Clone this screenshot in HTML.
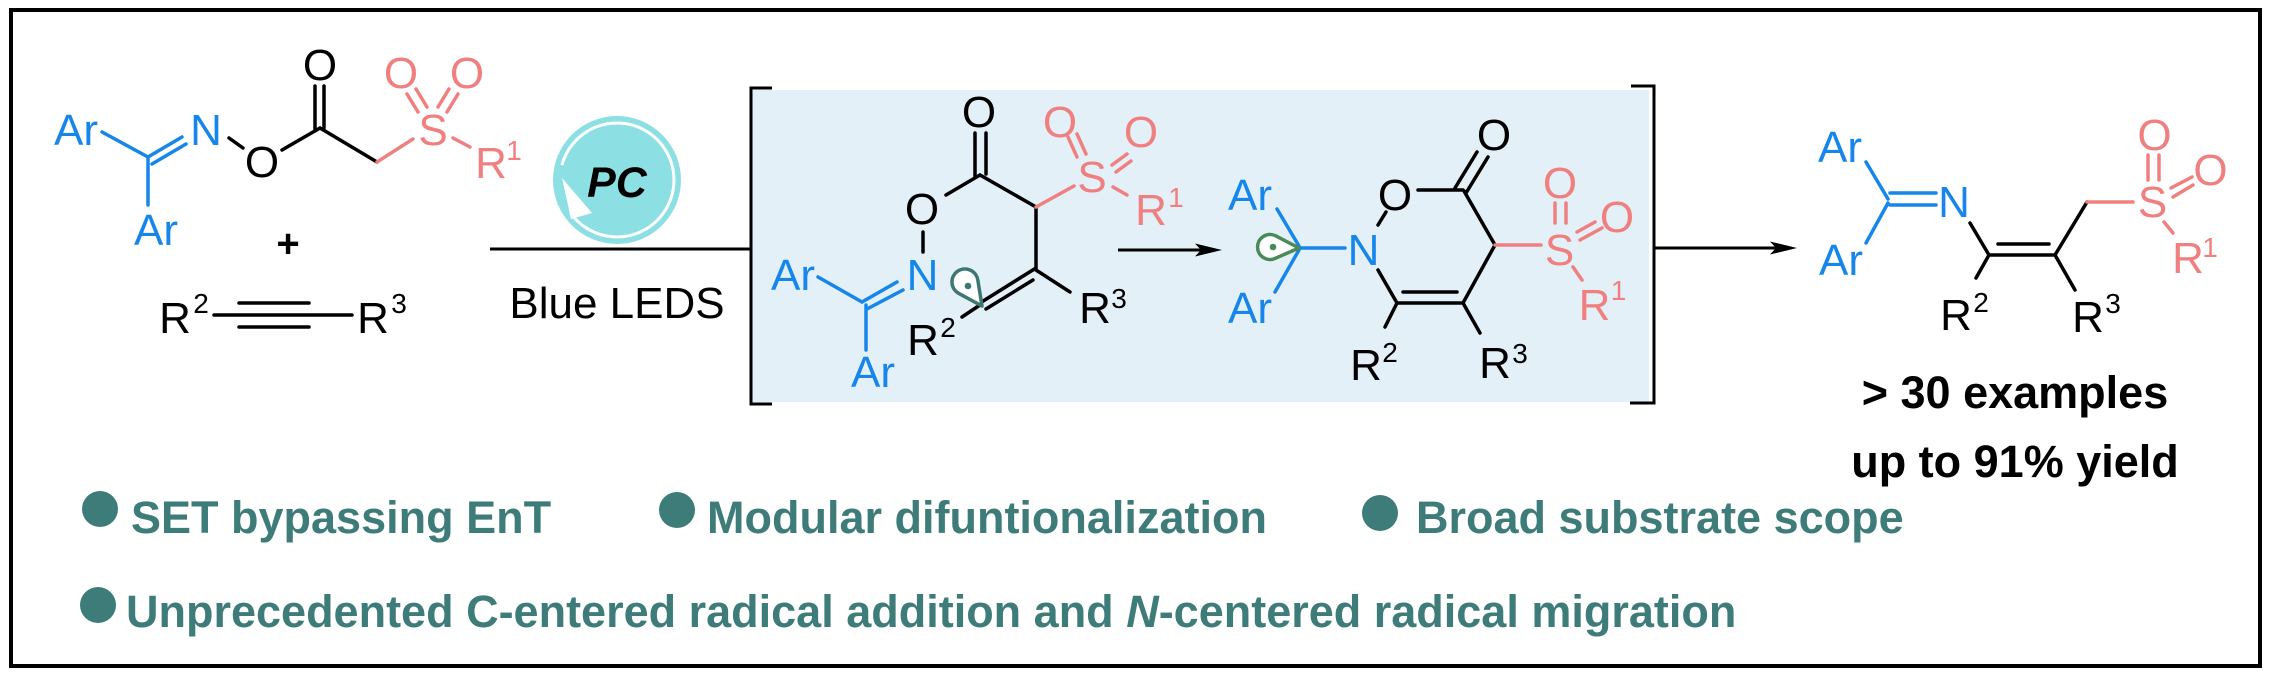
<!DOCTYPE html>
<html><head><meta charset="utf-8"><style>
html,body{margin:0;padding:0;background:#fff;}
svg{display:block;}
text{font-family:"Liberation Sans",Arial,sans-serif;}
</style></head><body>
<svg width="2273" height="678" viewBox="0 0 2273 678" xmlns="http://www.w3.org/2000/svg">
<rect width="2273" height="678" fill="#fff"/>
<rect x="11" y="10" width="2249" height="656" fill="none" stroke="#000" stroke-width="4"/>

<!-- highlighted intermediate box -->
<rect x="751" y="90" width="898" height="312" fill="#e3f0f8"/>
<path d="M772 88 H751 V404 H772" fill="none" stroke="#000" stroke-width="3"/>
<path d="M1631 86 H1654 V403 H1630" fill="none" stroke="#000" stroke-width="3"/>

<!-- arrows -->
<g stroke="#000" stroke-width="3" fill="none">
<path d="M490 249 L750 249"/>
<path d="M1118 250 L1205 250"/>
<path d="M1654 248 L1780 248"/>
</g>
<path d="M1222 250 L1195 243.5 L1201 250 L1195 256.5 Z" fill="#000"/>
<path d="M1797 248 L1770 241.5 L1776 248 L1770 254.5 Z" fill="#000"/>

<!-- PC catalyst -->
<circle cx="617" cy="180" r="64" fill="#8ce0e4"/>
<path d="M561.9 165.2 A57 57 0 1 1 570.3 212.7" fill="none" stroke="#fff" stroke-width="3"/>
<polygon points="562,178 571,219 592,213" fill="#fff"/>
<text x="617" y="197" font-size="43" font-weight="bold" font-style="italic" text-anchor="middle" fill="#000">PC</text>
<text x="617" y="318" font-size="44" text-anchor="middle" fill="#000">Blue LEDS</text>

<!-- ===== bonds ===== -->
<g stroke-width="3.5" stroke-linecap="round" fill="none">
<!-- blue -->
<g stroke="#1786ea">
<path d="M102 132 L148 157 M148 157 L182 137 M152 164 L186 144 M148 157 L148 205"/>
<path d="M818 277 L862 302 M862 302 L897 282 M867 309 L903 290 M866 305 L866 350"/>
<path d="M1277 209 L1299 246 M1299 250 L1275 292 M1300 248 L1345 248"/>
<path d="M1866 162 L1888 199 M1888 203 L1866 243 M1890 193 L1936 193 M1890 205 L1936 205"/>
</g>
<!-- black -->
<g stroke="#000">
<path d="M229 138 L243 148 M282 150 L320 128 M315 86 L315 131 M324 86 L324 128 M320 128 L377 162"/>
<path d="M239 303 L309 303 M214 315 L352 315 M239 327 L309 327"/>
<path d="M975 133 L975 177 M986 133 L986 174 M980 175 L946 195 M923 232 L923 252 M980 175 L1036 207 M1036 207 L1036 270 M1036 268 L980 303 M1033 280 L986 309 M980 305 L962 317 M1036 270 L1070 292"/>
<path d="M1378 225 L1386 212 M1418 190 L1463 190 M1455 188 L1477 152 M1466 193 L1488 157 M1464 191 L1495 245 M1495 245 L1463 303 M1397 303 L1463 303 M1403 292 L1457 292 M1378 270 L1397 303 M1397 303 L1385 327 M1463 303 L1480 333"/>
<path d="M1970 223 L1989 255 M1989 255 L2055 255 M1998 244 L2049 244 M1989 255 L1976 278 M2055 255 L2075 290 M2055 255 L2087 202"/>
</g>
<!-- pink -->
<g stroke="#f08080">
<path d="M377 162 L413 139 M407 94 L418 112 M416 89 L427 107 M449 89 L438 107 M458 94 L447 112 M453 138 L470 147"/>
<path d="M1036 207 L1074 186 M1068 137 L1077 157 M1077 134 L1086 154 M1112 165 L1127 154 M1116 172 L1131 161 M1113 187 L1127 195"/>
<path d="M1495 245 L1541 245 M1555 203 L1555 223 M1566 203 L1566 223 M1577 232 L1595 222 M1580 240 L1602 228 M1573 267 L1582 280"/>
<path d="M2087 202 L2133 202 M2148 155 L2148 180 M2159 155 L2159 180 M2171 188 L2192 177 M2173 197 L2193 185 M2164 222 L2173 233"/>
</g>
</g>

<!-- radical lobes -->
<path d="M982 306 L977.8 279.9 A13 13 0 1 0 958.8 293.4 Z" fill="#fff" stroke="#3e7772" stroke-width="3.5" stroke-linejoin="round"/>
<circle cx="968" cy="286" r="3.3" fill="#3e7772"/>
<path d="M1299 248 L1275.4 235.7 A12.5 12.5 0 1 0 1275.4 258.3 Z" fill="#fff" stroke="#4a8a57" stroke-width="3.5" stroke-linejoin="round"/>
<circle cx="1273" cy="247" r="3.3" fill="#4a8a57"/>

<!-- ===== labels ===== -->
<g font-size="44" text-anchor="middle">
<!-- blue -->
<g fill="#1786ea">
<text x="76" y="145">Ar</text><text x="206" y="145">N</text><text x="156" y="245">Ar</text>
<text x="793" y="290">Ar</text><text x="922.5" y="290">N</text><text x="873" y="387">Ar</text>
<text x="1250" y="210">Ar</text><text x="1250" y="323">Ar</text><text x="1363.5" y="265">N</text>
<text x="1840" y="162">Ar</text><text x="1841" y="275">Ar</text><text x="1954" y="217">N</text>
</g>
<!-- black -->
<g fill="#000">
<text x="262" y="177">O</text><text x="320" y="80">O</text>
<text x="288" y="257" font-size="40" font-weight="bold">+</text>
<text x="175" y="333">R</text><text x="201" y="313" font-size="28">2</text>
<text x="373" y="333">R</text><text x="399" y="313" font-size="28">3</text>
<text x="979" y="127">O</text><text x="922" y="224">O</text>
<text x="923" y="355">R</text><text x="948" y="337" font-size="28">2</text>
<text x="1095" y="323">R</text><text x="1119" y="308" font-size="28">3</text>
<text x="1395" y="210">O</text><text x="1494" y="150">O</text>
<text x="1366" y="380">R</text><text x="1390" y="362" font-size="28">2</text>
<text x="1495" y="378">R</text><text x="1520" y="363" font-size="28">3</text>
<text x="1956" y="330">R</text><text x="1981" y="312" font-size="28">2</text>
<text x="2088" y="332">R</text><text x="2113" y="313" font-size="28">3</text>
</g>
<!-- pink -->
<g fill="#f08080">
<text x="433" y="145">S</text><text x="401" y="88">O</text><text x="467" y="88">O</text>
<text x="491" y="178">R</text><text x="514" y="160" font-size="28">1</text>
<text x="1092" y="192">S</text><text x="1060" y="137">O</text><text x="1141" y="147">O</text>
<text x="1151" y="225">R</text><text x="1176" y="207" font-size="28">1</text>
<text x="1559.5" y="265">S</text><text x="1560" y="198">O</text><text x="1617" y="232">O</text>
<text x="1594.5" y="320">R</text><text x="1618.5" y="300" font-size="28">1</text>
<text x="2152.5" y="217">S</text><text x="2154.5" y="150">O</text><text x="2210.5" y="185">O</text>
<text x="2188" y="273">R</text><text x="2210" y="257" font-size="28">1</text>
</g>
</g>

<!-- results -->
<g font-size="45" font-weight="bold" text-anchor="middle" fill="#000">
<text x="2015" y="408">&gt; 30 examples</text>
<text x="2015" y="477">up to 91% yield</text>
</g>

<!-- bottom bullets -->
<g fill="#3e7c7a">
<circle cx="100" cy="509" r="18"/>
<circle cx="677" cy="510" r="18"/>
<circle cx="1380" cy="513" r="18"/>
<circle cx="98" cy="605" r="18"/>
</g>
<g font-size="45" font-weight="bold" fill="#3e7c7a">
<text x="131" y="533">SET bypassing EnT</text>
<text x="707" y="533">Modular difuntionalization</text>
<text x="1416" y="533">Broad substrate scope</text>
<text x="126" y="627">Unprecedented C-entered radical addition and <tspan font-style="italic">N</tspan>-centered radical migration</text>
</g>
</svg>
</body></html>
